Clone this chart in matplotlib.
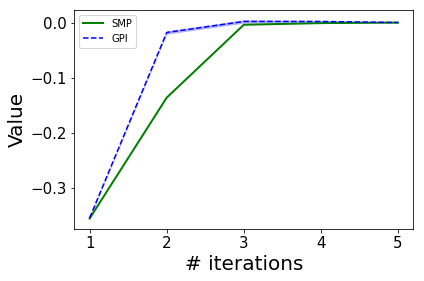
import matplotlib
matplotlib.use("Agg")
import matplotlib.pyplot as plt
import numpy as np

iterations = [1, 2, 3, 4, 5]
smp = [-0.355, -0.136, -0.004, -0.001, 0.0]
gpi = [-0.354, -0.018, 0.002, 0.002, 0.0]
gpi_spread = [0.002, 0.003, 0.003, 0.002, 0.001]

fig, ax = plt.subplots(figsize=(424/72, 281/72), dpi=72)
ax.plot(iterations, smp, color="green", linestyle="-", linewidth=2, label="SMP")
ax.plot(iterations, gpi, color="blue", linestyle="--", linewidth=1.5, label="GPI")
g = np.array(gpi); s = np.array(gpi_spread)
ax.fill_between(iterations, g - s, g + s, color="blue", alpha=0.3, linewidth=0)
ax.set_xticks(iterations)
ax.tick_params(labelsize=15)
ax.set_xlabel("# iterations", fontsize=20)
ax.set_ylabel("Value", fontsize=20)
ax.legend(fontsize=10, loc="upper left")
fig.subplots_adjust(left=0.175, right=0.975, top=0.965, bottom=0.185)
fig.savefig("out.png", dpi=72)
